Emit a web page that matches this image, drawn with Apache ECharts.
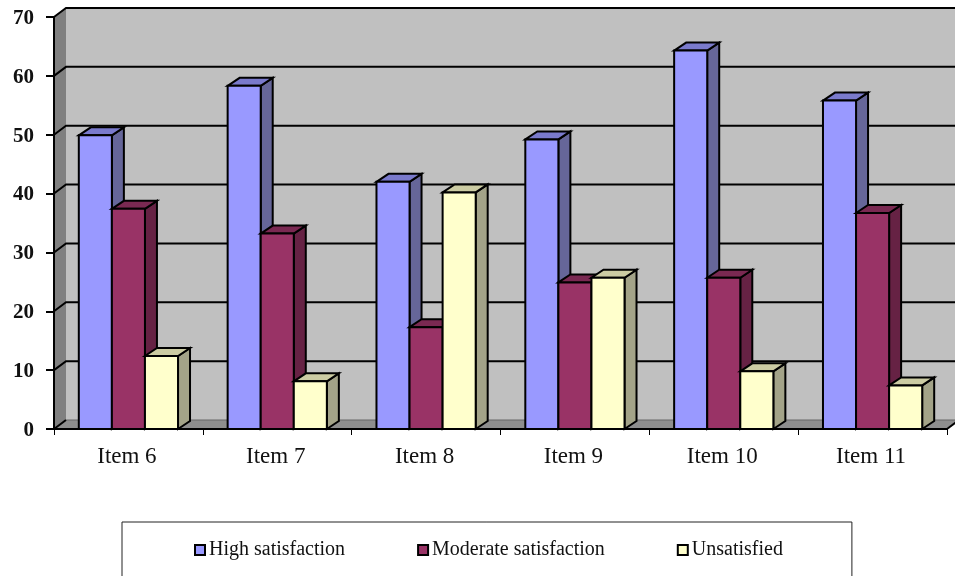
<!DOCTYPE html>
<html>
<head>
<meta charset="utf-8">
<style>html,body{margin:0;padding:0;background:#fff;overflow:hidden}#chart{width:955px;height:576px}</style>
<script src="https://cdn.jsdelivr.net/npm/echarts@6/dist/echarts.min.js"></script>
</head>
<body>
<div id="chart"></div>
<script>
const categories = ['Item 6', 'Item 7', 'Item 8', 'Item 9', 'Item 10', 'Item 11'];
const yTicks = [0, 10, 20, 30, 40, 50, 60, 70];
const highSatisfaction = [49.9, 58.3, 42, 49.2, 64.3, 55.8];
const moderateSatisfaction = [37.4, 33.2, 17.3, 24.9, 25.7, 36.7];
const unsatisfied = [12.4, 8.1, 40.2, 25.7, 9.8, 7.4];

// Oblique depth of the fake 3D projection, in pixels
const DX = 12, DY = -8, WALL_DY = -9;
const SERIF = '"Liberation Serif", "Times New Roman", serif';

const palette = [
  { front: '#9999FF', top: '#7A7ACC', side: '#666699' },
  { front: '#993366', top: '#7A2952', side: '#662244' },
  { front: '#FFFFCC', top: '#CCCCA3', side: '#A3A388' }
];

const chart = echarts.init(document.getElementById('chart'));

// Back wall, side wall, floor and the gridlines that run across them
function renderWalls(params, api) {
  const x0 = params.coordSys.x;
  const x1 = x0 + params.coordSys.width;
  const yb = api.coord([0, 0])[1];
  const yt = api.coord([0, 70])[1];
  const edge = { stroke: '#000', lineWidth: 2 };
  const children = [
    { type: 'polygon', shape: { points: [[x0 + DX, yt + WALL_DY], [x1 + DX, yt + WALL_DY], [x1 + DX, yb + WALL_DY], [x0 + DX, yb + WALL_DY]] },
      style: { fill: '#C0C0C0' } },
    { type: 'polygon', shape: { points: [[x0, yt], [x0 + DX, yt + WALL_DY], [x0 + DX, yb + WALL_DY], [x0, yb]] },
      style: { fill: '#808080' } },
    { type: 'polygon', shape: { points: [[x0, yb], [x0 + DX, yb + WALL_DY], [x1 + DX, yb + WALL_DY], [x1, yb]] },
      style: { fill: '#8E8E8E' } }
  ];
  yTicks.forEach(function (t) {
    const y = api.coord([0, t])[1];
    if (t === 0) {
      // The floor meets the back wall with a thin line rather than a gridline
      children.push({ type: 'line', shape: { x1: x0 + DX, y1: y + WALL_DY, x2: x1 + DX, y2: y + WALL_DY },
        style: { stroke: '#666', lineWidth: 1 } });
      children.push({ type: 'line', shape: { x1: x0, y1: y, x2: x0 + DX, y2: y + WALL_DY }, style: edge });
    } else {
      children.push({ type: 'polyline',
        shape: { points: [[x0, y], [x0 + DX, y + WALL_DY], [x1 + DX, y + WALL_DY]] },
        style: Object.assign({ fill: null }, edge) });
    }
  });
  children.push({ type: 'line', shape: { x1: x1, y1: yb, x2: x1 + DX, y2: yb + WALL_DY }, style: edge });
  return { type: 'group', children: children };
}

// One cuboid per data point; position within the category comes from the series index
function makeBarRenderer(seriesIndex) {
  const colors = palette[seriesIndex];
  return function (params, api) {
    const center = api.coord([api.value(0), 0]);
    const top = api.coord([api.value(0), api.value(1)]);
    const w = api.size([1, 0])[0] * 0.2222;
    const xl = center[0] + (seriesIndex - 1.5) * w;
    const xr = xl + w;
    const yb = center[1];
    const yt = top[1];
    const edge = { stroke: '#000', lineWidth: 2, lineJoin: 'miter' };
    return { type: 'group', children: [
      { type: 'polygon', shape: { points: [[xr, yt], [xr + DX, yt + DY], [xr + DX, yb + DY], [xr, yb]] },
        style: Object.assign({ fill: colors.side }, edge) },
      { type: 'polygon', shape: { points: [[xl, yt], [xl + DX, yt + DY], [xr + DX, yt + DY], [xr, yt]] },
        style: Object.assign({ fill: colors.top }, edge) },
      { type: 'rect', shape: { x: xl, y: yt, width: w, height: yb - yt },
        style: Object.assign({ fill: colors.front }, edge) }
    ] };
  };
}

function barSeries(name, values, index) {
  return {
    name: name,
    type: 'custom',
    coordinateSystem: 'cartesian2d',
    clip: false,
    z: 5 + index,
    renderItem: makeBarRenderer(index),
    itemStyle: { color: palette[index].front, borderColor: '#000', borderWidth: 2 },
    encode: { x: 0, y: 1 },
    data: values.map(function (v, i) { return [i, v]; })
  };
}

chart.setOption({
  animation: false,
  backgroundColor: '#fff',
  grid: { left: 54, right: 8, top: 17, bottom: 147, containLabel: false },
  legend: {
    show: true,
    left: 122,
    top: 522,
    orient: 'horizontal',
    selectedMode: false,
    icon: 'rect',
    itemWidth: 10,
    itemHeight: 10,
    itemGap: 72,
    padding: [18, 69, 40, 72],
    borderColor: '#222',
    borderWidth: 1,
    backgroundColor: '#fff',
    textStyle: { fontFamily: SERIF, fontSize: 20, color: '#111', padding: [0, 0, 0, -1] },
    data: ['High satisfaction', 'Moderate satisfaction', 'Unsatisfied']
  },
  xAxis: {
    type: 'category',
    data: categories,
    z: 20,
    axisLine: { show: true, onZero: false, lineStyle: { color: '#000', width: 2 } },
    axisTick: { show: true, length: 6, lineStyle: { color: '#000', width: 1 } },
    axisLabel: { fontFamily: SERIF, fontSize: 23, color: '#111', margin: 16, padding: [0, 3, 0, 0] }
  },
  yAxis: {
    type: 'value',
    min: 0,
    max: 70,
    interval: 10,
    z: 20,
    splitLine: { show: false },
    axisLine: { show: true, lineStyle: { color: '#000', width: 2 } },
    axisTick: { show: true, length: 8, lineStyle: { color: '#000', width: 2 } },
    axisLabel: { fontFamily: SERIF, fontSize: 21, fontWeight: 'bold', color: '#111', margin: 20, verticalAlign: 'top', padding: [-9, 0, 0, 0] }
  },
  series: [
    {
      name: 'walls',
      type: 'custom',
      coordinateSystem: 'cartesian2d',
      clip: false,
      silent: true,
      z: 1,
      renderItem: renderWalls,
      data: [[0, 0]]
    },
    barSeries('High satisfaction', highSatisfaction, 0),
    barSeries('Moderate satisfaction', moderateSatisfaction, 1),
    barSeries('Unsatisfied', unsatisfied, 2)
  ]
});
</script>
</body>
</html>
